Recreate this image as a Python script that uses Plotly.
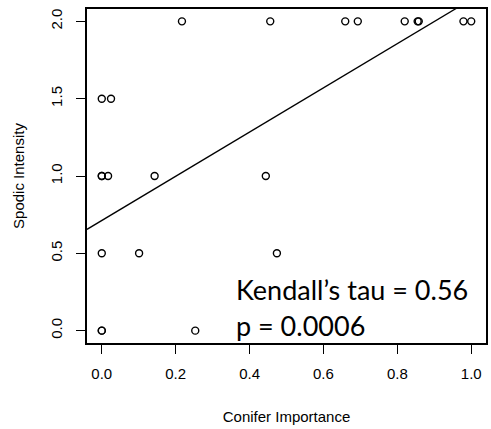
import plotly.graph_objects as go

# Conifer importance vs spodic intensity, one value per plot
conifer_importance = [0.217, 0.456, 0.659, 0.693, 0.820, 0.855, 0.858, 0.979, 1.000,
                      0.000, 0.025,
                      0.000, 0.000, 0.017, 0.143, 0.444,
                      0.000, 0.101, 0.474,
                      0.000, 0.000, 0.253]
spodic_intensity = [2.0, 2.0, 2.0, 2.0, 2.0, 2.0, 2.0, 2.0, 2.0,
                    1.5, 1.5,
                    1.0, 1.0, 1.0, 1.0, 1.0,
                    0.5, 0.5, 0.5,
                    0.0, 0.0, 0.0]

# Fitted trend line (intercept, slope)
fit_intercept = 0.712
fit_slope = 1.43

x_ticks = [0.0, 0.2, 0.4, 0.6, 0.8, 1.0]
y_ticks = [0.0, 0.5, 1.0, 1.5, 2.0]
x_range = [-0.04, 1.04]
y_range = [-0.08, 2.08]

stat_lines = ["Kendall’s tau = 0.56", "p = 0.0006"]

axis_font = dict(family="Liberation Sans, Arial, sans-serif", size=15, color="black")

fig = go.Figure()

fig.add_trace(go.Scatter(
    x=x_range,
    y=[fit_intercept + fit_slope * v for v in x_range],
    mode="lines",
    line=dict(color="black", width=1.3),
    hoverinfo="skip",
    showlegend=False,
))

fig.add_trace(go.Scatter(
    x=conifer_importance,
    y=spodic_intensity,
    mode="markers",
    marker=dict(symbol="circle-open", size=7, color="black", line=dict(width=1.4)),
    showlegend=False,
))

common_axis = dict(
    showline=True, mirror=True, linecolor="black", linewidth=1.5,
    showgrid=False, zeroline=False,
    ticks="outside", ticklen=9, tickwidth=1.2, tickcolor="black",
    tickfont=axis_font, tickformat=".1f",
)

fig.update_xaxes(
    range=x_range, tickvals=x_ticks, ticklabelstandoff=7,
    title=dict(text="Conifer Importance", font=axis_font, standoff=31),
    **common_axis,
)
fig.update_yaxes(
    range=y_range, tickvals=y_ticks, tickangle=-90, ticklabelstandoff=8,
    title=dict(text="Spodic Intensity", font=axis_font, standoff=20),
    **common_axis,
)

for text, ypos in zip(stat_lines, [0.159, 0.051]):
    fig.add_annotation(
        x=0.368, y=ypos, xref="paper", yref="paper",
        xanchor="left", yanchor="middle", showarrow=False,
        text=text, font=dict(family="Lato, Open Sans, sans-serif", size=27, color="black"),
    )

fig.update_layout(
    width=491, height=429,
    margin=dict(l=87, r=3, t=9, b=86),
    plot_bgcolor="white", paper_bgcolor="white",
)

fig.write_html("out.html")
